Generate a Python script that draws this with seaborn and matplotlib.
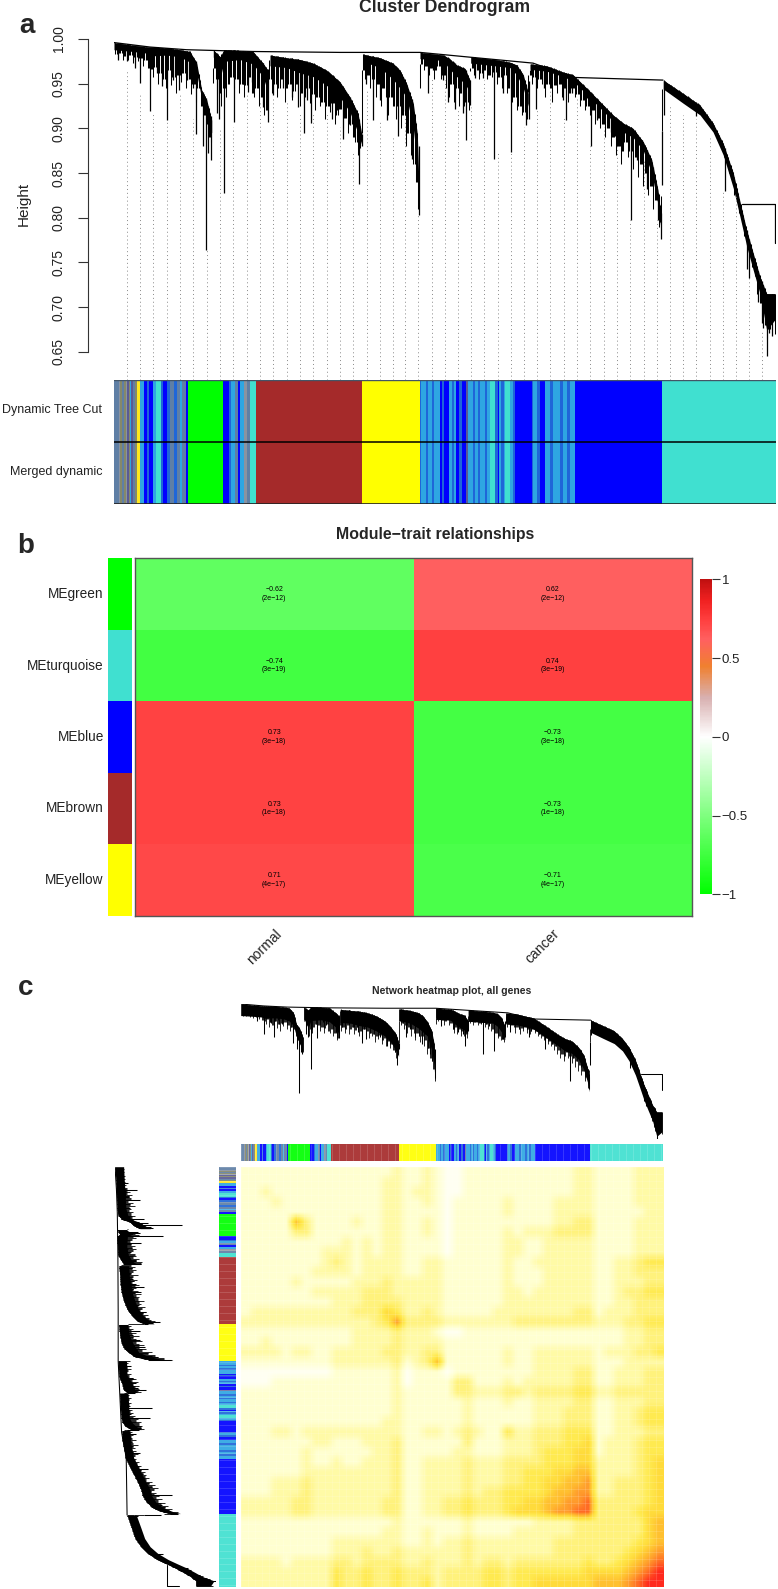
import numpy as np
import seaborn as sns
import matplotlib
matplotlib.use('Agg')
import matplotlib.pyplot as plt
from matplotlib.colors import ListedColormap, LinearSegmentedColormap

W, H = 778, 1589

# dendrogram, x = leaf position along the tree, heights
trunk_x = [0, 36, 72.7, 139, 226, 306, 352.7, 419, 459, 549]
trunk_h = [.996, .991, .988, .986, .985, .985, .980, .973, .957, .954]
right_x = [627.7, 661, 661]
right_h = [.815, .815, .772]

b1_x = [0, 19.3, 34, 36, 52.7, 66, 76, 82.7, 87.7, 92.7, 97.7]
b1_top = [.996, .993, .991, .991, .990, .988, .986, .973, .943, .932, .909]
b1_low = [.988, .986, .984, .981, .982, .980, .974, .962, .933, .915, .895]
b2_x = [99.3, 106, 110, 126, 139, 149, 154]
b2_top = [.988, .980, .988, .987, .986, .973, .965]
b2_low = [.980, .955, .975, .977, .972, .958, .940]
b3_x = [156, 172.7, 186, 199, 212.7, 226, 236, 244, 247.7]
b3_top = [.982, .979, .977, .973, .965, .952, .935, .917, .894]
b3_low = [.970, .968, .962, .958, .948, .935, .918, .895, .882]
b4_x = [248.7, 266, 279, 286, 292.7, 299.3, 303.3, 305]
b4_top = [.983, .979, .973, .965, .950, .928, .894, .835]
b4_low = [.975, .968, .955, .945, .935, .900, .860, .815]
b5_x = [306, 329.3, 334.3, 342.7, 351, 356]
b5_top = [.985, .982, .979, .971, .967, .954]
b5_low = [.978, .976, .968, .958, .950, .940]
b6_x = [356.7, 381, 396, 402.7, 409.3, 414.3]
b6_top = [.980, .977, .974, .971, .960, .939]
b6_low = [.973, .970, .968, .960, .945, .925]
b7_x = [416, 432.7, 449, 459, 472.7, 486, 499, 509, 519, 529.3, 537.7, 544, 546.7]
b7_top = [.972, .970, .963, .960, .945, .930, .915, .906, .900, .885, .865, .831, .805]
b7_low = [.966, .964, .958, .953, .938, .923, .908, .896, .890, .875, .850, .815, .790]
b8_x = [549.3, 569.3, 586, 599, 609.3, 619.3, 626, 632.7, 639.3, 646, 652.7, 661]
b8_top = [.954, .939, .926, .906, .883, .850, .818, .786, .760, .734, .715, .715]
b8_low = [.944, .928, .915, .896, .870, .833, .801, .768, .741, .715, .674, .686]

# long single branches hanging from the tree
spike_x = [4.3, 12.7, 21, 26, 36, 42.7, 47.7, 52.7, 59, 65, 72.7, 79, 81.7, 89, 91.7, 94.3, 96.7,
           102.7, 105, 110, 120.3, 129, 134.3, 138, 149, 153.7, 159.3, 169.3, 177.7, 184.3, 190, 192.7,
           197, 206, 218.3, 223, 229.3, 236, 245.3, 247.7, 251.7, 259.3, 266, 272.7, 284.3, 289.3,
           297.7, 305.3, 314.3, 319.3, 329.3, 334.3, 341, 349.3, 351.7, 356, 361, 369.3, 380, 389.3,
           396.7, 402.7, 412, 415, 421.7, 430.3, 449.3, 451.7, 457.7, 472.7, 477, 483.3, 490, 497,
           501, 506, 516.7, 523.3, 527.7, 533.3, 539.3, 544.3, 546.7, 548.3, 550, 581.7, 610.7,
           632.7, 635.3, 644.3, 647.7, 649.3, 652.7, 655.3, 657.7, 660]
spike_h = [.977, .975, .967, .951, .919, .962, .947, .909, .954, .943, .954, .945, .894, .880, .764, .872, .865,
           .917, .910, .828, .907, .950, .941, .952, .924, .907, .937, .945, .935, .924, .895, .932,
           .906, .935, .911, .921, .888, .904, .838, .880, .950, .909, .932, .909, .891, .919,
           .866, .803, .940, .965, .954, .930, .922, .917, .887, .926, .956, .956, .866, .939,
           .874, .943, .904, .911, .922, .945, .932, .909, .939, .934, .880, .909, .906, .896,
           .891, .880, .797, .865, .861, .832, .835, .797, .776, .837, .915, .914, .830,
           .743, .732, .706, .682, .676, .645, .671, .667, .686]

# lower edge of the dense fringe, left to right along the leaves
fringe_h = [.983, .979, .984, .977, .981, .976, .982, .973, .980, .975, .979, .970, .977, .968,
            .966, .958, .969, .950, .962, .955, .945, .965, .948, .958, .940, .960,
            .952, .962, .945, .955, .938, .950, .930, .945, .925, .915, .905, .890, .885,
            .968, .955, .940, .925, .945, .935, .950, .958, .945, .955, .940, .950, .935, .948, .958, .940, .935, .945, .925, .935, .915, .920,
            .955, .940, .950, .935, .945, .955, .930, .945, .950, .932, .942, .950, .925, .940, .935, .945, .928, .938, .920, .935, .925, .930, .910, .925, .918, .928, .905, .915, .922, .900, .912, .895, .905, .890, .885, .870, .878,
            .965, .955, .960, .945, .955, .935, .950, .925, .945, .935, .915, .935, .925, .910, .925, .900, .915, .880, .895, .870, .860, .840, .810,
            .972, .965, .970, .960, .968, .955, .965, .970, .955, .960, .945, .935, .950, .930, .945, .925, .940, .925, .930, .920,
            .968, .960, .965, .955, .962, .965, .955, .960, .958, .963, .950, .958, .945, .960, .940, .945, .930, .935, .920, .925, .915, .918, .910,
            .960, .950, .958, .945, .955, .950, .935, .950, .945, .930, .948, .940, .950, .935, .945, .930, .940,
            .945, .935, .938, .925, .932, .920, .925, .915, .920, .905, .912, .900, .905, .890, .900, .880, .890, .870, .880, .860, .875, .885, .868, .875, .855, .868, .845, .860, .835, .850, .825, .835, .810, .820, .790, .795,
            .944, .946, .941, .943, .936, .938, .933, .934, .928, .930, .925, .926, .920, .922, .917, .918, .912, .912, .907, .905, .897, .893, .888, .880, .868, .860, .850, .842, .825, .818, .805, .795, .780, .768, .755, .745, .735, .715, .705, .690, .680, .665, .675, .690, .670]

# dotted guide lines of panel a
guide_x = [12.7, 26, 39.3, 52.7, 66, 79.3, 92.7, 106, 119.3, 132.7, 146, 159.3, 172.7, 186, 199.3, 212.7,
           226, 239.3, 252.7, 266, 279.3, 291, 304.3, 317.7, 331, 344.3, 357, 370.3, 383.7, 397, 410.3,
           423, 436.3, 449.7, 463, 476.3, 489.7, 503, 516.3, 529.7, 543, 555.7, 569, 582.3, 595.7, 609,
           621.7, 635, 648.3, 661.7]
guide_h = [.965, .939, .917, .907, .939, .911, .764, .898, .902, .939, .932, .935, .932, .917, .917, .917,
           .902, .872, .943, .909, .891, .917, .805, .958, .954, .921, .924, .954, .872, .872, .902,
           .921, .943, .913, .935, .880, .902, .880, .797, .865, .797, .926, .915, .911, .889, .829,
           .829, .734, .674, .760]

# module colour strip, run length coded per leaf
module_hex = {'s': '#5f7fa5', 'g': '#8a93a0', 'o': '#85886a', 'p': '#5a5a95', 'y': '#ffe81e', 'l': '#2ea6e2',
              'B': '#0000ff', 'r': '#1f66d8', 't': '#40e0d0', 'G': '#00ff00', 'b': '#a52a2a', 'Y': '#ffff00'}
run_codes = ('s g o s o g p o l p s o y l '
             'l B r B l t r B r s r s l s B '
             'G '
             'B r l s B l g s t '
             'b Y '
             'r l r l r l B r B l r l B r B p '
             'l r l r l r l t r B l r l t l r B '
             'B r l r B l r l r l r l l '
             'B t').split()
run_lens = [5, 1, 2, 2, 2, 1, 2, 1, 1, 2, 2, 2, 3, 1,
            3, 3, 2, 4, 3, 5, 2, 4, 3, 4, 3, 3, 2, 4, 2,
            35,
            6, 2, 4, 3, 2, 4, 3, 3, 6,
            106, 58,
            1, 5, 2, 4, 2, 6, 2, 2, 5, 3, 2, 2, 3, 3, 4, 2,
            5, 2, 3, 2, 5, 2, 3, 5, 3, 1, 2, 3, 1, 5, 3, 2, 12,
            5, 1, 4, 3, 5, 5, 3, 7, 3, 4, 3, 3, 2,
            87, 114]

# panel b
modules = ['MEgreen', 'MEturquoise', 'MEblue', 'MEbrown', 'MEyellow']
module_colors = ['#00ff00', '#40e0d0', '#0000ff', '#a52a2a', '#ffff00']
traits = ['normal', 'cancer']
cor_normal = [-0.62, -0.74, 0.73, 0.73, 0.71]
cor_cancer = [0.62, 0.74, -0.73, -0.73, -0.71]
pvals = ['2e\u221212', '3e\u221219', '3e\u221218', '1e\u221218', '4e\u221217']

# panel c, TOM levels 0-9 read in blocks, upper triangle, groups: grey, mix, green, mix, brown, yellow, mix, blue, turquoise
tom_rows = [
    '11 111 11 11 1111112 1121 001111111 111122 1111222',
    '1 111 11 11 1111122 1121 001111111 111122 1111222',
    '211 11 11 1111122 1221 001111111 111122 1111222',
    '21 11 11 1111122 1121 011111211 112222 1111222',
    '1 11 11 1111122 1111 011111211 112222 1111122',
    '63 11 1121122 1121 011111111 112233 1111222',
    '3 11 1111122 1121 011111212 223333 1111222',
    '11 1212122 1111 011111221 122222 1111222',
    '2 2212122 1111 011111221 122222 1111222',
    '3212222 1122 111111211 222222 1122344',
    '212222 1122 111111211 122222 1122333',
    '22232 2222 111111211 122222 1122233',
    '3332 2222 111111221 222222 1123344',
    '333 2222 111111222 222222 1122333',
    '54 2232 111112222 222233 1222333',
    '7 3333 222222233 333333 2223344',
    '2221 001111111 111111 1112233',
    '222 111111111 111111 1112233',
    '33 111111211 222222 1222334',
    '6 111111211 222222 1112222',
    '011111111 222233 1122233',
    '33111212 222233 1122233',
    '3222332 333344 2233333',
    '111211 222233 1122233',
    '11111 222333 1122344',
    '1111 222333 1122344',
    '422 333444 1122233',
    '22 333445 1222344',
    '2 344455 1222344',
    '344455 2222345',
    '45566 2222345',
    '5667 2233345',
    '677 2233345',
    '78 3333345',
    '8 3333455',
    '3333356',
    '333356',
    '33456',
    '4567',
    '678',
    '89',
    '9',
]


def px_axes(left, top, right, bottom):
    return fig.add_axes([left / W, 1 - bottom / H, (right - left) / W, (bottom - top) / H])


def draw_tree(ax, lw, fringe_lw, thick=0, side=False):
    branches = [(b1_x, b1_top, b1_low), (b2_x, b2_top, b2_low), (b3_x, b3_top, b3_low), (b4_x, b4_top, b4_low),
                (b5_x, b5_top, b5_low), (b6_x, b6_top, b6_low), (b7_x, b7_top, b7_low), (b8_x, b8_top, b8_low)]
    all_x = np.concatenate([b[0] for b in branches])
    all_top = np.concatenate([b[1] for b in branches])
    start = np.interp(spike_x, all_x, all_top)
    step = n_leaf / len(fringe_h)
    fringe_x = (np.arange(len(fringe_h)) + .5) * step
    fringe_start = np.interp(fringe_x, all_x, all_top)
    fringe_low = np.array(fringe_h) - thick * .6
    # between two fringe lines, the shorter of the neighbours keeps the mass dense
    inner_x = fringe_x[:-1] + step / 2
    inner_start = np.interp(inner_x, all_x, all_top)
    inner_low = np.maximum(fringe_low[:-1], fringe_low[1:])
    for x, top, low in branches:
        if side:
            ax.fill_betweenx(x, top, np.array(low) - thick, color='black', lw=0)
        else:
            ax.fill_between(x, top, np.array(low) - thick, color='black', lw=0)
    if side:
        ax.hlines(fringe_x, fringe_start, fringe_low, color='black', lw=fringe_lw)
        ax.hlines(inner_x, inner_start, inner_low, color='black', lw=fringe_lw)
        ax.hlines(spike_x, start, spike_h, color='black', lw=lw)
        sns.lineplot(x=trunk_h, y=trunk_x, sort=False, estimator=None, color='black', lw=lw, ax=ax)
        sns.lineplot(x=right_h, y=right_x, sort=False, estimator=None, color='black', lw=lw, ax=ax)
    else:
        ax.vlines(fringe_x, fringe_start, fringe_low, color='black', lw=fringe_lw)
        ax.vlines(inner_x, inner_start, inner_low, color='black', lw=fringe_lw)
        ax.vlines(spike_x, start, spike_h, color='black', lw=lw)
        sns.lineplot(x=trunk_x, y=trunk_h, sort=False, estimator=None, color='black', lw=lw, ax=ax)
        sns.lineplot(x=right_x, y=right_h, sort=False, estimator=None, color='black', lw=lw, ax=ax)


def draw_strip(ax, codes, alpha=1):
    names = list(module_hex)
    sns.heatmap(codes, cmap=ListedColormap([module_hex[n] for n in names]), vmin=-.5, vmax=len(names) - .5,
                cbar=False, xticklabels=False, yticklabels=False, alpha=alpha, ax=ax)


sns.set_style('white')
plt.rcParams['font.family'] = ['Liberation Sans', 'DejaVu Sans']
fig = plt.figure(figsize=(W / 100, H / 100), dpi=100)

leaf_codes = np.repeat([list(module_hex).index(c) for c in run_codes], run_lens)
n_leaf = len(leaf_codes)

# a
ax = px_axes(114, 39, 776, 380)
sns.despine(ax=ax, bottom=True, offset={'left': 18.7})
ax.vlines(guide_x, 0.618, guide_h, color='#888888', lw=.7, linestyles=(0, (1, 3)))
draw_tree(ax, .9, .75)
ax.set_xlim(0, n_leaf)
ax.set_ylim(.6183, 1)
ax.set_xticks([])
ax.set_yticks([.65, .7, .75, .8, .85, .9, .95, 1])
ax.set_yticklabels(['0.65', '0.70', '0.75', '0.80', '0.85', '0.90', '0.95', '1.00'], rotation=90, va='center', fontsize=10, color='#222222')
ax.tick_params(axis='y', left=True, length=7.2, width=.8, color='#333333', pad=9)
ax.spines['left'].set_bounds(.65, 1)
ax.spines['left'].set_color('#333333')
ax.spines['left'].set_linewidth(.8)
ax.patch.set_alpha(0)

ax = px_axes(113.5, 380, 776, 504)
draw_strip(ax, leaf_codes[None, :])
ax.axhline(.5, color='black', lw=1.1)
ax.axhline(0, color='#445566', lw=1)
ax.axhline(1, color='#222222', lw=1.2)

fig.text(444.5 / W, 1 - 8 / H, 'Cluster Dendrogram', ha='center', va='center', fontsize=12.7, fontweight='bold')
fig.text(24 / W, 1 - 204 / H, 'Height', rotation=90, ha='center', va='center', fontsize=11, color='#222222')
fig.text(102 / W, 1 - 410 / H, 'Dynamic Tree Cut', ha='right', va='center', fontsize=9, color='#222222')
fig.text(102 / W, 1 - 472 / H, 'Merged dynamic', ha='right', va='center', fontsize=9, color='#222222')

# b
cor_cmap = LinearSegmentedColormap.from_list('greenWhiteRed', [
    (0, '#00ff00'), (.5, '#ffffff'), (.625, '#d8b0b0'), (.725, '#f08030'), (.81, '#ff6060'),
    (.87, '#ff4040'), (.935, '#f02020'), (1, '#c01010')])
cor = np.column_stack([cor_normal, cor_cancer])
labels = np.array([[f'{v:.2f}\n({p})'.replace('-', '\u2212') for v in row] for row, p in zip(cor, pvals)])
ax = px_axes(135, 558.3, 692, 915.7)
cax = px_axes(700, 579.3, 711.6, 894.3)
sns.heatmap(cor, cmap=cor_cmap, vmin=-1, vmax=1, annot=labels, fmt='', ax=ax, cbar_ax=cax, xticklabels=traits, yticklabels=False,
            annot_kws={'fontsize': 5, 'color': 'black', 'linespacing': 1.25})
plt.setp(ax.get_xticklabels(), rotation=45, ha='right', rotation_mode='anchor', fontsize=10, color='#222222')
ax.tick_params(axis='x', length=0, pad=8)
for s in ax.spines.values():
    s.set_visible(True)
    s.set_color('#555555')
    s.set_linewidth(1)
cbar = ax.collections[0].colorbar
cbar.set_ticks([-1, -.5, 0, .5, 1])
cbar.set_ticklabels(['\u22121', '\u22120.5', '0', '0.5', '1'], fontsize=9.5, color='#222222')
cax.tick_params(axis='y', length=5.8, width=.8, color='#333333', pad=1.5, right=True)
cbar.outline.set_visible(True)
cbar.outline.set_edgecolor('#555555')

ax = px_axes(108, 558.3, 131.5, 915.7)
sns.heatmap(np.arange(len(modules))[:, None], cmap=ListedColormap(module_colors), cbar=False, xticklabels=False, yticklabels=modules, ax=ax)
plt.setp(ax.get_yticklabels(), rotation=0, fontsize=9.8, color='#222222')
ax.tick_params(axis='y', length=0, pad=3)
fig.text(435 / W, 1 - 534 / H, 'Module\u2212trait relationships', ha='center', va='center', fontsize=11.4, fontweight='bold')

# c
ax = px_axes(240.7, 1004, 662.7, 1139)
draw_tree(ax, .75, .6, thick=.022)
ax.set_xlim(0, n_leaf)
ax.set_ylim(.645, .996)
ax.axis('off')

ax = px_axes(240.7, 1144.3, 662.7, 1161.3)
draw_strip(ax, leaf_codes[None, :], alpha=.92)
ax.vlines(np.arange(0, n_leaf, 11), 0, 1, color='white', alpha=.15, lw=.7)

ax = px_axes(219.3, 1166.7, 236.3, 1586.7)
draw_strip(ax, leaf_codes[:, None], alpha=.92)
ax.hlines(np.arange(0, n_leaf, 11), 0, 1, color='white', alpha=.15, lw=.7)

ax = px_axes(115, 1166.7, 216, 1586.7)
draw_tree(ax, .75, .6, thick=.022, side=True)
ax.set_ylim(n_leaf, 0)
ax.set_xlim(.996, .645)
ax.axis('off')

tom_cmap = LinearSegmentedColormap.from_list('tom', ['#fffff2', '#ffffd0', '#fffaa6', '#fff27c', '#ffea50',
                                                     '#ffdc3c', '#ffc030', '#ff9c2c', '#ff6a24', '#ff2a1e'])
tom = np.zeros((42, 42))
for i, row in enumerate(tom_rows):
    vals = [int(c) for c in row.replace(' ', '')]
    tom[i, 42 - len(vals):] = vals
tom = np.triu(tom) + np.triu(tom, 1).T
ax = px_axes(240.7, 1166.7, 662.7, 1586.7)
sns.heatmap(tom, cmap=tom_cmap, vmin=0, vmax=9, cbar=False, xticklabels=False, yticklabels=False, ax=ax)
# same values, smoothed when drawn
ax.imshow(tom, cmap=tom_cmap, vmin=0, vmax=9, interpolation='bilinear', extent=(0, 42, 42, 0), aspect='auto', zorder=2)
ax.vlines(np.arange(0, 42, .7), 0, 42, color='white', alpha=.16, lw=.6, zorder=3)
ax.hlines(np.arange(0, 42, .7), 0, 42, color='white', alpha=.16, lw=.6, zorder=3)
ax.set_xlim(0, 42)
ax.set_ylim(42, 0)
fig.text(451.7 / W, 1 - 990.7 / H, 'Network heatmap plot, all genes', ha='center', va='center', fontsize=7.5, fontweight='bold')

# panel letters
fig.text(19 / W, 1 - 33 / H, 'a', fontsize=20, fontweight='bold')
fig.text(17 / W, 1 - 553 / H, 'b', fontsize=20, fontweight='bold')
fig.text(18 / W, 1 - 995 / H, 'c', fontsize=20, fontweight='bold')

plt.savefig('out.png', dpi=100)
